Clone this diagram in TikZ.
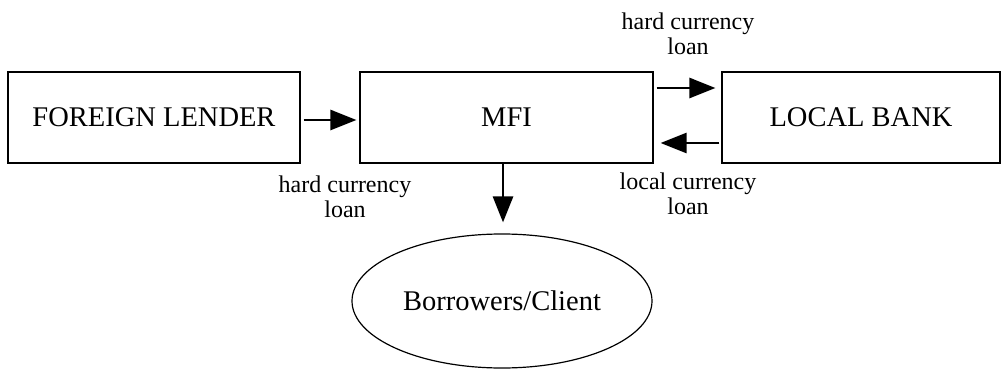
\documentclass[tikz,border=0pt]{standalone}
\usepackage{fontspec}
\setmainfont{Liberation Serif}
\usetikzlibrary{arrows.meta,shapes.geometric}
\begin{document}
\begin{tikzpicture}[x=1pt,y=-1pt,
  box/.style={draw,line width=1.2pt,minimum width=292pt,minimum height=91pt,inner sep=0pt,font=\fontsize{28.5}{32}\selectfont},
  flow/.style={line width=2.8pt,-{Triangle[length=26pt,width=20pt]}},
  lbl/.style={align=center,inner sep=0pt,font=\fontsize{24}{25}\selectfont}]
\useasboundingbox (0,0) rectangle (1008,371);
\node[box] (fl) at (154,117.5) {FOREIGN LENDER};
\node[box,minimum width=293pt] (mfi) at (506.5,117.5) {MFI};
\node[box,minimum width=278pt] (lb) at (861,117.5) {LOCAL BANK};
\node[draw,line width=1.2pt,ellipse,minimum width=300pt,minimum height=134pt,inner sep=0pt,font=\fontsize{28.5}{32}\selectfont] (bc) at (502,301) {Borrowers/Client};
\draw[flow,shorten <=3pt,shorten >=3pt] (fl.east|-0,120) -- (mfi.west|-0,120);
\draw[flow,shorten <=3pt,shorten >=6pt] (mfi.east|-0,88) -- (lb.west|-0,88);
\draw[flow,shorten <=2pt,shorten >=7pt] (lb.west|-0,143) -- (mfi.east|-0,143);
\draw[flow,shorten >=11pt] (mfi.south-|503,0) -- (bc.north-|503,0);
\node[lbl] (t1) at (688,34) {hard currency\\loan};
\node[lbl] (t2) at (688,194) {local currency\\loan};
\node[lbl] (t3) at (345,197) {hard currency\\loan};
\end{tikzpicture}
\end{document}
